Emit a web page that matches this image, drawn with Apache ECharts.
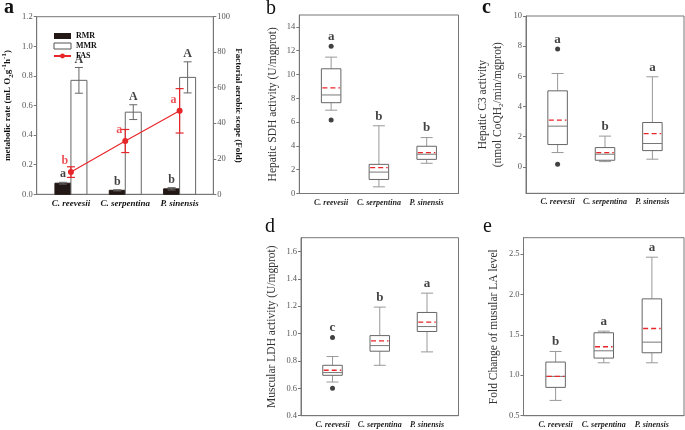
<!DOCTYPE html>
<html><head><meta charset="utf-8">
<script src="https://cdn.jsdelivr.net/npm/echarts@6/dist/echarts.min.js"></script>
<style>html,body{margin:0;padding:0;background:#fff}#c{width:685px;height:430px}</style>
</head><body><div id="c"></div><script>
// ---------- data ----------
const species = ['C. reevesii', 'C. serpentina', 'P. sinensis'];

// panel a
const rmrMean = [0.075, 0.027, 0.037];
const rmrErr = [0.006, 0.004, 0.008];
const mmrMean = [0.77, 0.555, 0.79];
const mmrErr = [0.087, 0.05, 0.105];
const fasMean = [12.5, 30, 47];
const fasErr = [3, 6.5, 12.5];
const rmrLetters = ['a', 'b', 'b'];
const mmrLetters = ['A', 'A', 'A'];
const fasLetters = ['b', 'a', 'a'];
const aLeftTicks = [0, 0.2, 0.4, 0.6, 0.8, 1.0, 1.2];
const aRightTicks = [0, 20, 40, 60, 80, 100];

// panel b  [min, Q1, median, Q3, max]
const sdhBox = [[7.0, 7.63, 8.28, 10.48, 11.46], [0.56, 1.18, 1.80, 2.45, 5.69], [2.54, 2.87, 3.30, 3.97, 4.70]];
const sdhMean = [8.87, 2.17, 3.44];
const sdhOut = [[12.37, 6.17], [], []];
const sdhLetters = ['a', 'b', 'b'];
const sdhTicks = [0, 2, 4, 6, 8, 10, 12, 14];

// panel c
const c3Box = [[0.95, 1.48, 2.70, 5.04, 6.19], [0.35, 0.44, 0.84, 1.28, 2.04], [0.51, 1.08, 1.55, 2.94, 5.97]];
const c3Mean = [3.10, 0.95, 2.21];
const c3Out = [[7.81, 0.18], [], []];
const c3Letters = ['a', 'b', 'a'];
const c3Ticks = [0, 2, 4, 6, 8, 10];

// panel d
const ldhBox = [[0.646, 0.695, 0.715, 0.768, 0.832], [0.768, 0.871, 0.912, 0.985, 1.193], [0.866, 1.015, 1.051, 1.154, 1.295]];
const ldhMean = [0.732, 0.946, 1.083];
const ldhOut = [[0.971, 0.60], [], []];
const ldhLetters = ['c', 'b', 'a'];
const ldhTicks = [0.4, 0.6, 0.8, 1.0, 1.2, 1.4, 1.6];

// panel e
const laBox = [[0.689, 0.85, 0.986, 1.163, 1.294], [1.154, 1.212, 1.302, 1.525, 1.545], [1.154, 1.278, 1.409, 1.944, 2.459]];
const laMean = [0.986, 1.352, 1.578];
const laOut = [[], [], []];
const laLetters = ['b', 'a', 'a'];
const laTicks = [0.5, 1.0, 1.5, 2.0, 2.5];

// ---------- helpers ----------
const SERIF = 'Liberation Serif';
const FRAME = '#777';
const RED = '#e8262a';

function grid(left, top, right, bottom) {
  return { left: left, top: top, width: right - left, height: bottom - top, show: true,
    borderColor: FRAME, borderWidth: 1, backgroundColor: 'transparent', containLabel: false, outerBoundsMode: 'none' };
}
function xAxis(gi, min, max, size, color) {
  return { type: 'value', gridIndex: gi, min: min, max: max, position: 'bottom',
    axisLine: { show: true, onZero: false, lineStyle: { color: FRAME } }, axisTick: { show: false }, splitLine: { show: false },
    axisLabel: { customValues: [1, 2, 3], formatter: v => species[Math.round(v) - 1],
      fontFamily: SERIF, fontStyle: 'italic', fontWeight: 'bold', fontSize: size, color: color, margin: 5 } };
}
function yAxis(gi, min, max, ticks, digits, name, gap, extra) {
  const o = { type: 'value', gridIndex: gi, min: min, max: max,
    axisLine: { show: true, onZero: false, lineStyle: { color: FRAME } },
    axisTick: { show: true, length: 3, customValues: ticks, lineStyle: { color: FRAME } },
    splitLine: { show: false },
    axisLabel: { customValues: ticks, formatter: v => v.toFixed(digits), fontFamily: SERIF, fontSize: 8.5, color: '#555', margin: 4 },
    name: name, nameLocation: 'middle', nameGap: gap, nameRotate: 90,
    nameTextStyle: { fontFamily: SERIF, fontSize: 11.5, color: '#333' } };
  return Object.assign(o, extra || {});
}

function boxRender(params, api) {
  const x = api.value(0);
  const mn = api.value(1), q1 = api.value(2), md = api.value(3), q3 = api.value(4), mx = api.value(5), mean = api.value(6);
  const cx = api.coord([x, md])[0];
  const y = v => api.coord([x, v])[1];
  const hw = 9.75, cw = 6;
  const ws = { stroke: '#999', lineWidth: 1 };
  return { type: 'group', children: [
    { type: 'line', shape: { x1: cx, y1: y(q3), x2: cx, y2: y(mx) }, style: ws },
    { type: 'line', shape: { x1: cx - cw, y1: y(mx), x2: cx + cw, y2: y(mx) }, style: ws },
    { type: 'line', shape: { x1: cx, y1: y(q1), x2: cx, y2: y(mn) }, style: ws },
    { type: 'line', shape: { x1: cx - cw, y1: y(mn), x2: cx + cw, y2: y(mn) }, style: ws },
    { type: 'rect', shape: { x: cx - hw, y: y(q3), width: hw * 2, height: y(q1) - y(q3) }, style: { fill: '#fff', stroke: '#666', lineWidth: 1 } },
    { type: 'line', shape: { x1: cx - hw, y1: y(md), x2: cx + hw, y2: y(md) }, style: { stroke: '#777', lineWidth: 1 } },
    { type: 'line', shape: { x1: cx - hw + 1, y1: y(mean), x2: cx + hw - 1, y2: y(mean) }, style: { stroke: RED, lineWidth: 1.3, lineDash: [5, 3] } }
  ] };
}

function boxSeries(k, box, mean, outs, letters) {
  const tops = box.map((b, i) => Math.max(b[4], ...outs[i]));
  return [
    { type: 'custom', xAxisIndex: k, yAxisIndex: k + 1, renderItem: boxRender, silent: true, z: 2,
      data: box.map((b, i) => [i + 1, ...b, mean[i]]), encode: { x: 0, y: [1, 2, 3, 4, 5] } },
    { type: 'scatter', xAxisIndex: k, yAxisIndex: k + 1, symbol: 'circle', symbolSize: 5, silent: true, z: 3,
      itemStyle: { color: '#111' }, data: outs.flatMap((arr, i) => arr.map(v => [i + 1, v])) },
    { type: 'scatter', xAxisIndex: k, yAxisIndex: k + 1, symbolSize: 0, silent: true, z: 4,
      data: letters.map((l, i) => ({ name: l, value: [i + 1, tops[i]] })),
      label: { show: true, position: 'top', distance: 3, formatter: p => p.name,
        fontFamily: SERIF, fontWeight: 'bold', fontSize: 13, color: '#111' } }
  ];
}

function barRender(side, fill, stroke) {
  return function (params, api) {
    const x = api.value(0), v = api.value(1), e = api.value(2);
    const p0 = api.coord([x, 0]), p1 = api.coord([x, v]);
    const w = 16;
    const left = side < 0 ? p0[0] - w : p0[0];
    const cx = left + w / 2;
    const yt = api.coord([x, v + e])[1], yb = api.coord([x, v - e])[1];
    const es = { stroke: '#666', lineWidth: 1 };
    return { type: 'group', children: [
      { type: 'rect', shape: { x: left, y: p1[1], width: w, height: p0[1] - p1[1] }, style: { fill: fill, stroke: stroke, lineWidth: 1 } },
      { type: 'line', shape: { x1: cx, y1: yt, x2: cx, y2: yb }, style: es },
      { type: 'line', shape: { x1: cx - 4, y1: yt, x2: cx + 4, y2: yt }, style: es },
      { type: 'line', shape: { x1: cx - 4, y1: yb, x2: cx + 4, y2: yb }, style: es }
    ] };
  };
}
function errRender(params, api) {
  const x = api.value(0), v = api.value(1), e = api.value(2);
  const yt = api.coord([x, v + e]), yb = api.coord([x, v - e]);
  const cx = yt[0];
  const s = { stroke: RED, lineWidth: 1.2 };
  return { type: 'group', children: [
    { type: 'line', shape: { x1: cx, y1: yt[1], x2: cx, y2: yb[1] }, style: s },
    { type: 'line', shape: { x1: cx - 4, y1: yt[1], x2: cx + 4, y2: yt[1] }, style: s },
    { type: 'line', shape: { x1: cx - 4, y1: yb[1], x2: cx + 4, y2: yb[1] }, style: s }
  ] };
}
function letterSeries(yi, vals, letters, offset, color, size) {
  return { type: 'scatter', xAxisIndex: 0, yAxisIndex: yi, symbolSize: 0, silent: true, z: 6,
    data: letters.map((l, i) => ({ name: l, value: [i + 1, vals[i]] })),
    label: { show: true, position: 'top', distance: 2, offset: offset, formatter: p => p.name,
      fontFamily: SERIF, fontWeight: 'bold', fontSize: size, color: color } };
}

// ---------- option ----------
const subRich = {
  s: { fontFamily: SERIF, fontSize: 7, verticalAlign: 'bottom', lineHeight: 14 },
  p: { fontFamily: SERIF, fontSize: 7, verticalAlign: 'top', lineHeight: 14 }
};
const option = {
  animation: false,
  backgroundColor: '#fff',
  grid: [
    grid(36.7, 16.7, 213.3, 194.3),
    grid(299.3, 15, 458.5, 193.5),
    grid(526, 16, 684, 193.3),
    grid(301, 237.7, 458.5, 415.7),
    grid(523.5, 237.7, 684, 415.7)
  ],
  xAxis: [
    xAxis(0, 0.37, 3.62, 9, '#111'),
    xAxis(1, 1 / 3, 11 / 3, 8, '#222'),
    xAxis(2, 1 / 3, 11 / 3, 8, '#222'),
    xAxis(3, 1 / 3, 11 / 3, 8, '#222'),
    xAxis(4, 1 / 3, 11 / 3, 8, '#222')
  ],
  yAxis: [
    yAxis(0, 0, 1.2, aLeftTicks, 1, 'metabolic rate (mL O{s|2}g{p|-1}h{p|-1})', 22,
      { nameTextStyle: { fontFamily: SERIF, fontSize: 9, fontWeight: 'bold', color: '#111', lineHeight: 14,
        rich: { s: Object.assign({ fontWeight: 'bold', color: '#111' }, subRich.s), p: Object.assign({ fontWeight: 'bold', color: '#111' }, subRich.p) } } }),
    yAxis(0, 0, 100, aRightTicks, 0, 'Factorial aerobic scope (Fold)', 21,
      { position: 'right', nameRotate: -90, nameTextStyle: { fontFamily: SERIF, fontSize: 9, fontWeight: 'bold', color: '#111' } }),
    yAxis(1, 0, 15, sdhTicks, 0, 'Hepatic SDH activity (U/mgprot)', 20),
    yAxis(2, -1.75, 10, c3Ticks, 0, 'Hepatic C3 activity\n(nmol CoQH{s|2}/min/mgprot)', 21,
      { nameTextStyle: { fontFamily: SERIF, fontSize: 11.5, color: '#333', lineHeight: 15,
        rich: { s: Object.assign({ color: '#333' }, subRich.s, { lineHeight: 15 }) } } }),
    yAxis(3, 0.4, 1.7, ldhTicks, 1, 'Muscular LDH activity (U/mgprot)', 23),
    yAxis(4, 0.5, 2.7, laTicks, 1, 'Fold Change of musular LA level', 24)
  ],
  legend: {
    left: 48, top: 27, orient: 'vertical', itemGap: 2, itemWidth: 17, itemHeight: 6,
    textStyle: { fontFamily: SERIF, fontWeight: 'bold', fontSize: 8, color: '#111' },
    data: [
      { name: 'RMR', icon: 'rect', itemStyle: { color: '#231815', borderColor: '#231815' } },
      { name: 'MMR', icon: 'rect', itemStyle: { color: '#fff', borderColor: '#555', borderWidth: 1 } },
      { name: 'FAS' }
    ]
  },
  graphic: [
    { type: 'text', x: 4, y: 8, style: { text: 'a', font: 'bold 20px "Liberation Serif"', fill: '#111', verticalAlign: 'middle' } },
    { type: 'text', x: 266, y: 9, style: { text: 'b', font: '20px "Liberation Serif"', fill: '#111', verticalAlign: 'middle' } },
    { type: 'text', x: 482, y: 8, style: { text: 'c', font: 'bold 20px "Liberation Serif"', fill: '#111', verticalAlign: 'middle' } },
    { type: 'text', x: 265, y: 227, style: { text: 'd', font: '20px "Liberation Serif"', fill: '#111', verticalAlign: 'middle' } },
    { type: 'text', x: 483, y: 227, style: { text: 'e', font: '20px "Liberation Serif"', fill: '#111', verticalAlign: 'middle' } }
  ],
  series: [
    { name: 'RMR', type: 'custom', xAxisIndex: 0, yAxisIndex: 0, renderItem: barRender(-1, '#231815', '#231815'),
      itemStyle: { color: '#231815' }, silent: true, z: 2,
      data: rmrMean.map((v, i) => [i + 1, v, rmrErr[i]]), encode: { x: 0, y: 1 } },
    { name: 'MMR', type: 'custom', xAxisIndex: 0, yAxisIndex: 0, renderItem: barRender(1, '#fff', '#666'),
      itemStyle: { color: '#fff', borderColor: '#555' }, silent: true, z: 2,
      data: mmrMean.map((v, i) => [i + 1, v, mmrErr[i]]), encode: { x: 0, y: 1 } },
    { name: 'FASerr', type: 'custom', xAxisIndex: 0, yAxisIndex: 1, renderItem: errRender, silent: true, z: 4,
      data: fasMean.map((v, i) => [i + 1, v, fasErr[i]]), encode: { x: 0, y: 1 } },
    { name: 'FAS', type: 'line', xAxisIndex: 0, yAxisIndex: 1, z: 5, silent: true,
      data: fasMean.map((v, i) => [i + 1, v]), symbol: 'circle', symbolSize: 6,
      lineStyle: { color: RED, width: 1.2 }, itemStyle: { color: RED } },
    letterSeries(0, rmrMean.map((v, i) => v + rmrErr[i]), rmrLetters, [-8, 0], '#111', 12),
    letterSeries(0, mmrMean.map((v, i) => v + mmrErr[i]), mmrLetters, [8, 0], '#111', 12),
    letterSeries(1, fasMean, fasLetters, [-6, -3], RED, 12),
    ...boxSeries(1, sdhBox, sdhMean, sdhOut, sdhLetters),
    ...boxSeries(2, c3Box, c3Mean, c3Out, c3Letters),
    ...boxSeries(3, ldhBox, ldhMean, ldhOut, ldhLetters),
    ...boxSeries(4, laBox, laMean, laOut, laLetters)
  ]
};
const chart = echarts.init(document.getElementById('c'), null, { renderer: 'canvas' });
chart.setOption(option);
</script></body></html>
